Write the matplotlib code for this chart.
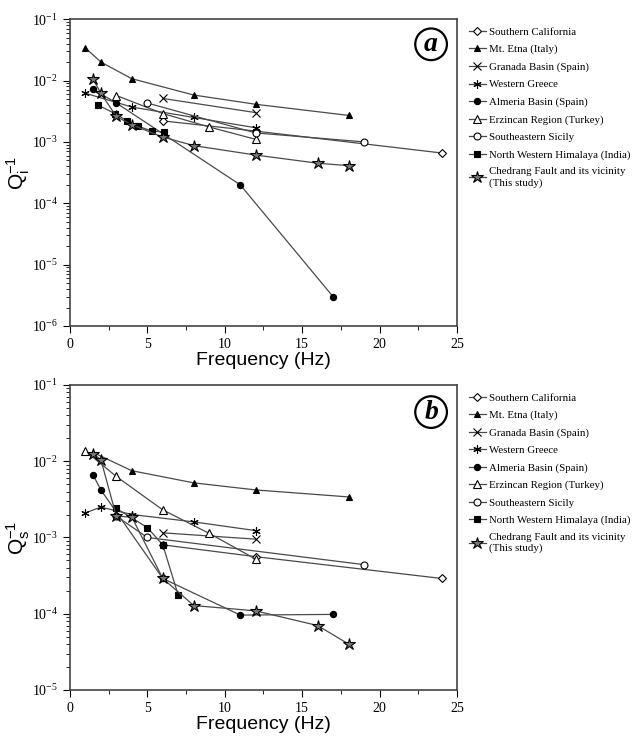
import matplotlib
matplotlib.use("Agg")
import matplotlib.pyplot as plt
from matplotlib.ticker import LogLocator, MultipleLocator, NullFormatter

plt.rcParams["font.family"] = "Liberation Serif"
plt.rcParams["mathtext.fontset"] = "custom"
plt.rcParams["mathtext.rm"] = "Liberation Serif"
plt.rcParams["mathtext.it"] = "Liberation Serif:italic"
plt.rcParams["mathtext.bf"] = "Liberation Serif:bold"
plt.rcParams["mathtext.sf"] = "Liberation Sans"

names = ["Southern California", "Mt. Etna (Italy)", "Granada Basin (Spain)",
         "Western Greece", "Almeria Basin (Spain)", "Erzincan Region (Turkey)",
         "Southeastern Sicily", "North Western Himalaya (India)",
         "Chedrang Fault and its vicinity\n(This study)"]

# panel (a): intrinsic attenuation Qi^-1
fa = {
    "Southern California": [6, 12, 24],
    "Mt. Etna (Italy)": [1, 2, 4, 8, 12, 18],
    "Granada Basin (Spain)": [6, 12],
    "Western Greece": [1, 4, 8, 12],
    "Almeria Basin (Spain)": [1.5, 3, 11, 17],
    "Erzincan Region (Turkey)": [3, 6, 9, 12],
    "Southeastern Sicily": [5, 12, 19],
    "North Western Himalaya (India)": [1.8, 2.9, 3.7, 4.4, 5.3, 6.1],
    "Chedrang Fault and its vicinity\n(This study)": [1.5, 2, 3, 4, 6, 8, 12, 16, 18],
}
qa = {
    "Southern California": [2.2e-3, 1.5e-3, 6.6e-4],
    "Mt. Etna (Italy)": [3.4e-2, 2.0e-2, 1.07e-2, 5.8e-3, 4.1e-3, 2.7e-3],
    "Granada Basin (Spain)": [5.1e-3, 3.0e-3],
    "Western Greece": [6.2e-3, 3.7e-3, 2.5e-3, 1.7e-3],
    "Almeria Basin (Spain)": [7.2e-3, 4.3e-3, 2.0e-4, 3.0e-6],
    "Erzincan Region (Turkey)": [5.7e-3, 2.9e-3, 1.75e-3, 1.1e-3],
    "Southeastern Sicily": [4.3e-3, 1.4e-3, 1.0e-3],
    "North Western Himalaya (India)": [4.0e-3, 2.9e-3, 2.2e-3, 1.8e-3, 1.5e-3, 1.45e-3],
    "Chedrang Fault and its vicinity\n(This study)": [1.05e-2, 6.2e-3, 2.6e-3, 1.9e-3, 1.2e-3, 8.7e-4, 6.1e-4, 4.5e-4, 4.1e-4],
}

# panel (b): scattering attenuation Qs^-1
fb = {
    "Southern California": [6, 12, 24],
    "Mt. Etna (Italy)": [1.5, 4, 8, 12, 18],
    "Granada Basin (Spain)": [6, 12],
    "Western Greece": [1, 2, 4, 8, 12],
    "Almeria Basin (Spain)": [1.5, 2, 6, 11, 17],
    "Erzincan Region (Turkey)": [1, 3, 6, 9, 12],
    "Southeastern Sicily": [3, 5, 19],
    "North Western Himalaya (India)": [3, 5, 6, 7],
    "Chedrang Fault and its vicinity\n(This study)": [1.5, 2, 3, 4, 6, 8, 12, 16, 18],
}
qb = {
    "Southern California": [8.0e-4, 5.6e-4, 2.9e-4],
    "Mt. Etna (Italy)": [1.3e-2, 7.5e-3, 5.2e-3, 4.2e-3, 3.4e-3],
    "Granada Basin (Spain)": [1.15e-3, 9.5e-4],
    "Western Greece": [2.1e-3, 2.5e-3, 2.0e-3, 1.6e-3, 1.23e-3],
    "Almeria Basin (Spain)": [6.6e-3, 4.2e-3, 2.9e-4, 9.6e-5, 9.8e-5],
    "Erzincan Region (Turkey)": [1.36e-2, 6.3e-3, 2.3e-3, 1.13e-3, 5.2e-4],
    "Southeastern Sicily": [1.9e-3, 1.0e-3, 4.4e-4],
    "North Western Himalaya (India)": [2.4e-3, 1.35e-3, 8.0e-4, 1.74e-4],
    "Chedrang Fault and its vicinity\n(This study)": [1.25e-2, 1.05e-2, 1.9e-3, 1.85e-3, 2.9e-4, 1.28e-4, 1.09e-4, 7.0e-5, 4.0e-5],
}

styles = {
    "Southern California": dict(marker="D", ms=4, mfc="white"),
    "Mt. Etna (Italy)": dict(marker="^", ms=5, mfc="black"),
    "Granada Basin (Spain)": dict(marker="x", ms=6, mfc="none"),
    "Western Greece": dict(marker=(6, 2, 0), ms=6, mfc="none"),
    "Almeria Basin (Spain)": dict(marker="o", ms=4.5, mfc="black"),
    "Erzincan Region (Turkey)": dict(marker="^", ms=6, mfc="white"),
    "Southeastern Sicily": dict(marker="o", ms=5, mfc="white"),
    "North Western Himalaya (India)": dict(marker="s", ms=4.5, mfc="black"),
    "Chedrang Fault and its vicinity\n(This study)": dict(marker="*", ms=9, mfc="#777777"),
}

fig = plt.figure(figsize=(6.41, 7.36), dpi=100)
ax1 = fig.add_axes([0.109, 0.557, 0.604, 0.417])
ax2 = fig.add_axes([0.109, 0.0625, 0.604, 0.4145])


def draw(ax, f, q, ymin, ylab, letter, ly):
    for n in names:
        ax.plot(f[n], q[n], color="#4a4a4a", lw=0.9, mec="black", mew=0.8,
                label=n, **styles[n])
    ax.set_yscale("log")
    ax.set_xlim(0, 25)
    ax.set_ylim(ymin, 1e-1)
    ax.xaxis.set_major_locator(MultipleLocator(5))
    ax.xaxis.set_minor_locator(MultipleLocator(2.5))
    ax.yaxis.set_major_locator(LogLocator(base=10, numticks=10))
    ax.yaxis.set_minor_locator(LogLocator(base=10, subs=range(2, 10), numticks=10))
    ax.yaxis.set_minor_formatter(NullFormatter())
    ax.tick_params(which="both", direction="out", top=False, right=False,
                   labelsize=10)
    ax.tick_params(which="major", length=5)
    ax.tick_params(which="minor", length=3)
    for s in ax.spines.values():
        s.set_color("#444444")
        s.set_linewidth(1.2)
    ax.set_xlabel("Frequency (Hz)", family="Liberation Sans", fontsize=14, labelpad=1)
    ax.set_ylabel(ylab, fontsize=15, labelpad=0)
    ax.text(0.933, ly, letter, transform=ax.transAxes, fontsize=20,
            fontweight="bold", style="italic", ha="center", va="center",
            bbox=dict(boxstyle="circle,pad=0.12", fc="white", ec="black", lw=1.6))
    ax.legend(loc="upper left", bbox_to_anchor=(1.015, 0.995), frameon=False,
              fontsize=7.8, handlelength=1.5, handletextpad=0.3,
              labelspacing=0.72, borderaxespad=0.2)


draw(ax1, fa, qa, 1e-6, r"$\mathsf{Q_i^{-1}}$", "a", 0.918)
draw(ax2, fb, qb, 1e-5, r"$\mathsf{Q_s^{-1}}$", "b", 0.911)

fig.savefig("out.png", dpi=100)
